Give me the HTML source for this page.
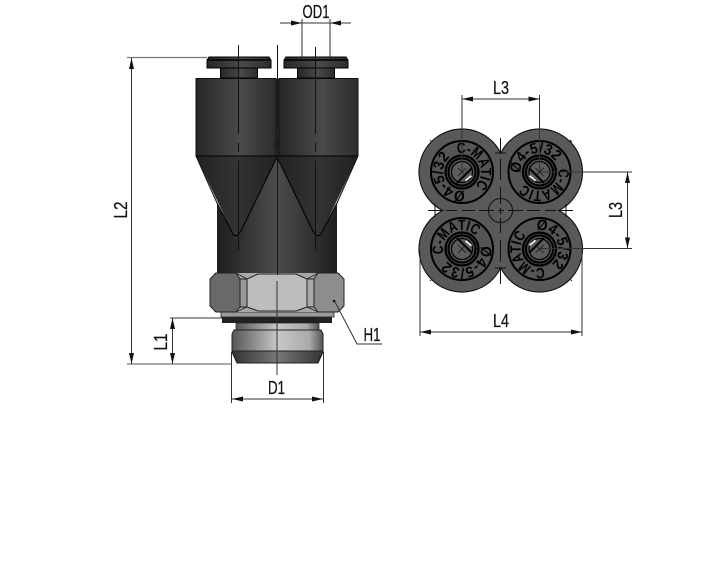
<!DOCTYPE html>
<html><head><meta charset="utf-8"><style>
html,body{margin:0;padding:0;background:#fff;width:702px;height:568px;overflow:hidden}
svg{display:block}
text{font-family:"Liberation Sans",sans-serif;fill:#111}
.lb{font-size:18px;text-anchor:middle;stroke:#111;stroke-width:.25}
.dim{stroke:#333;stroke-width:1;fill:none}
.grey{stroke:#777;stroke-width:1.3;fill:none}
.ar{fill:#111;stroke:none}
.en{font-size:15px;font-weight:bold;fill:#000}
</style></head><body>
<svg width="702" height="568" viewBox="0 0 702 568" xmlns="http://www.w3.org/2000/svg">
<defs>
<linearGradient id="cyl" x1="0" x2="1" y1="0" y2="0"><stop offset="0" stop-color="#262626"/><stop offset=".55" stop-color="#4a4a4a"/><stop offset="1" stop-color="#2c2c2c"/></linearGradient>
<linearGradient id="cone" x1="0" x2="1" y1="0" y2="0"><stop offset="0" stop-color="#222"/><stop offset=".5" stop-color="#333"/><stop offset="1" stop-color="#222"/></linearGradient>
<linearGradient id="low" x1="0" x2="1" y1="0" y2="0"><stop offset="0" stop-color="#1e1e1e"/><stop offset=".5" stop-color="#4c4c4c"/><stop offset="1" stop-color="#1e1e1e"/></linearGradient>
<linearGradient id="thr" x1="0" x2="1" y1="0" y2="0"><stop offset="0" stop-color="#555"/><stop offset=".5" stop-color="#c8c8c8"/><stop offset=".85" stop-color="#aaa"/><stop offset="1" stop-color="#555"/></linearGradient>
<linearGradient id="thrd" x1="0" x2="1" y1="0" y2="0"><stop offset="0" stop-color="#333"/><stop offset=".5" stop-color="#777"/><stop offset="1" stop-color="#333"/></linearGradient>
<path id="c" d="M0 -19A19 19 0 1 1 -0.100 -19" fill="none"/>
<g id="head">
 <circle r="31" fill="#555" stroke="#000" stroke-width="2"/>
 <circle r="16.500" fill="#444" stroke="#000" stroke-width="2.200"/>
 <circle r="13.500" fill="#555" stroke="#000" stroke-width="2"/>
 <circle r="10.500" fill="#5c5c5c" stroke="#000" stroke-width="1.200"/>
 <path d="M-4 -4 4 4M-4 4 4 -4" stroke="#111" stroke-width=".7"/>
</g>
</defs>

<!-- body -->
<path d="M277 157 241 231Q235 240 232 232L217 203V273H337V203L322 232Q318 240 313 231Z" fill="url(#low)"/>
<path d="M196 156H277L241 231Q235 240 232 232Z" fill="url(#cone)"/>
<path d="M277 156H358L322 232Q318 240 313 231Z" fill="url(#cone)"/>
<path d="M196 156 217 203M358 156 337 203" stroke="#111" stroke-width="1"/>
<path d="M277 157 241 231Q235 240 232 232L217 203M277 157 313 231Q318 240 322 232L337 203" fill="none" stroke="#000" stroke-width="1.100"/>
<rect x="196" y="78.500" width="80" height="77.500" fill="url(#cyl)" stroke="#111" stroke-width="1"/>
<rect x="279" y="78.500" width="79" height="77.500" fill="url(#cyl)" stroke="#111" stroke-width="1"/>
<rect x="276" y="79" width="3" height="78" fill="#222"/>
<line x1="196" y1="156" x2="358" y2="156" stroke="#000" stroke-width="1.100"/>
<g fill="url(#cyl)" stroke="#000" stroke-width="1">
<rect x="220.500" y="68" width="37" height="10"/>
<rect x="297.500" y="68" width="37" height="10"/>
<path d="M209 57H269L271 60V68H207V60Z"/>
<path d="M286 57H346L348 60V68H284V60Z"/>
</g>
<path d="M208 60H270M285 60H347" stroke="#000" stroke-width="1.400"/>

<!-- hex and thread -->
<path d="M221 312H334V317H221Z" fill="#9a9a9a" stroke="#222" stroke-width=".8"/>
<rect x="222" y="317" width="110" height="6" fill="#222"/>
<rect x="236" y="323" width="83" height="7" fill="url(#thr)" stroke="#222" stroke-width=".7"/>
<path d="M234 330H321L323 334V352L318 363H237L232 352V334Z" fill="url(#thr)" stroke="#222" stroke-width="1"/>
<path d="M232 351H323L318 363H237Z" fill="url(#thrd)" stroke="#222" stroke-width="1"/>
<rect x="214" y="273" width="126" height="39" fill="#a8a8a8"/>
<path d="M210 279 216 273H236L240 279V307L236 312H216L210 306Z" fill="#696969" stroke="#222" stroke-width="1"/>
<path d="M344 279 338 273H318L314 279V307L318 312H338L344 306Z" fill="#8d8d8d" stroke="#222" stroke-width="1"/>
<path d="M240 279H247V307H240Z" fill="#999" stroke="#222" stroke-width="1"/>
<path d="M307 279H314V307H307Z" fill="#aaa" stroke="#222" stroke-width="1"/>
<path d="M247 279 258 274H296L307 279V307L296 311H258L247 307Z" fill="#bdbdbd" stroke="#222" stroke-width="1"/>
<path d="M236 273 247 279M318 273 307 279M236 312 247 307M318 312 307 307" stroke="#222" stroke-width=".8"/>

<!-- center lines -->
<g stroke="#111" stroke-width="1" fill="none">
<path d="M238.500 45V134M238.500 143V152M238.500 161V250"/>
<path d="M315.500 47V134M315.500 143V152M315.500 161V250"/>
<path d="M277.500 45V130M277.500 139V147M277.500 156V275"/>
<path d="M277 281V375" stroke="#333"/>
</g>

<!-- left dims -->
<path class="grey" d="M127 57.500H207M127 364H232"/>
<path class="dim" d="M131.500 58V364M172.500 318V364M170 318H222"/>
<path class="ar" d="M131.500 58 129 69H134ZM131.500 364 129 353H134ZM172.500 318 170 329H175ZM172.500 364 170 353H175Z"/>
<text class="lb" transform="translate(127,210) rotate(-90)" textLength="17" lengthAdjust="spacingAndGlyphs">L2</text>
<text class="lb" transform="translate(167,342) rotate(-90)" textLength="17" lengthAdjust="spacingAndGlyphs">L1</text>

<!-- OD1 -->
<path class="dim" d="M280 23H351M302 19V57M330 19V57"/>
<path class="ar" d="M302 23 291 20.500V25.500ZM330 23 341 20.500V25.500Z"/>
<text class="lb" x="316" y="18" textLength="27" lengthAdjust="spacingAndGlyphs">OD1</text>

<!-- D1 -->
<path class="dim" d="M231.500 352V403M323.500 352V403M232 399H323"/>
<path class="ar" d="M232 399 243 396.500V401.500ZM323 399 312 396.500V401.500Z"/>
<text class="lb" x="276.500" y="394" textLength="17" lengthAdjust="spacingAndGlyphs">D1</text>

<!-- H1 -->
<path class="dim" d="M334 300 357 344H382"/>
<circle cx="334" cy="301" r="1.300" fill="#111"/>
<text class="lb" x="372" y="341" textLength="17" lengthAdjust="spacingAndGlyphs">H1</text>

<!-- right view -->
<g fill="none" stroke="#111" stroke-width="2.200">
<circle cx="462" cy="172" r="42.500"/><circle cx="539.500" cy="172" r="42.500"/>
<circle cx="462" cy="249" r="42.500"/><circle cx="539.500" cy="249" r="42.500"/>
</g>
<g fill="#595959">
<circle cx="462" cy="172" r="42.500"/><circle cx="539.500" cy="172" r="42.500"/>
<circle cx="462" cy="249" r="42.500"/><circle cx="539.500" cy="249" r="42.500"/>
<rect x="462" y="172" width="77.500" height="77"/>
</g>
<use href="#head" x="462" y="172"/>
<use href="#head" x="539.500" y="172"/>
<use href="#head" x="462" y="249"/>
<use href="#head" x="539.500" y="249"/>

<g transform="translate(462,172) rotate(-15)"><text class="en"><textPath href="#c" textLength="50" lengthAdjust="spacingAndGlyphs">C-MATIC</textPath></text><text class="en"><textPath href="#c" startOffset="61" textLength="50" lengthAdjust="spacingAndGlyphs">Ø4-5/32</textPath></text></g>
<g transform="translate(539.500,172) rotate(80)"><text class="en"><textPath href="#c" textLength="50" lengthAdjust="spacingAndGlyphs">C-MATIC</textPath></text><text class="en"><textPath href="#c" startOffset="61" textLength="50" lengthAdjust="spacingAndGlyphs">Ø4-5/32</textPath></text></g>
<g transform="translate(462,249) rotate(-105)"><text class="en"><textPath href="#c" textLength="50" lengthAdjust="spacingAndGlyphs">C-MATIC</textPath></text><text class="en"><textPath href="#c" startOffset="61" textLength="50" lengthAdjust="spacingAndGlyphs">Ø4-5/32</textPath></text></g>
<g transform="translate(539.500,249) rotate(165)"><text class="en"><textPath href="#c" textLength="50" lengthAdjust="spacingAndGlyphs">C-MATIC</textPath></text><text class="en"><textPath href="#c" startOffset="61" textLength="50" lengthAdjust="spacingAndGlyphs">Ø4-5/32</textPath></text></g>

<path d="M457 183 472 168M529 168 544 183M457 238 472 253M529 253 544 238" stroke="#000" stroke-width="2"/>
<g fill="#eee" stroke="none">
<path d="M465 180 471 175 472 176.500 466 181.500Z"/>
<path d="M530 175 536 180 535 181.500 529 176.500Z"/>
<path d="M466 240 472 245 471 246.500 465 241.500Z"/>
<path d="M536 241 530 246 529 244.500 535 239.500Z"/>
</g>

<circle cx="500.500" cy="210.500" r="12" fill="#5a5a5a" stroke="#111" stroke-width="1"/>
<g stroke="#111" stroke-width="1" fill="none">
<path d="M500.500 138V153M500.500 159V180M500.500 187V204M500.500 208V214M500.500 218V233M500.500 240V262M500.500 268V284"/>
<path d="M428 210.500H442M446 210.500H457M462 210.500H475M479 210.500H494M498 210.500H504M508 210.500H523M527 210.500H540M545 210.500H556M560 210.500H573"/>
<path d="M495 153H506M495 268H506M435 204V217M566 204V217"/>
<path d="M430 140 432 142M572 142 570 140M430 281 432 279M570 279 572 281" stroke="#333"/>
</g>

<!-- right dims -->
<path class="dim" d="M462 95V172M539.500 95V172M462 99H539.500"/>
<path class="ar" d="M462 99 473 96.500V101.500ZM539.500 99 528.500 96.500V101.500Z"/>
<text class="lb" x="501" y="94" textLength="16" lengthAdjust="spacingAndGlyphs">L3</text>
<path class="dim" d="M540 172H632M540 248.500H632M627.500 172V248.500"/>
<path class="ar" d="M627.500 172 625 183H630ZM627.500 248.500 625 237.500H630Z"/>
<text class="lb" transform="translate(622,210) rotate(-90)" textLength="16" lengthAdjust="spacingAndGlyphs">L3</text>
<path class="dim" d="M420 250V336M582 250V336M420 332H582"/>
<path class="ar" d="M420 332 431 329.500V334.500ZM582 332 571 329.500V334.500Z"/>
<text class="lb" x="501" y="327" textLength="16" lengthAdjust="spacingAndGlyphs">L4</text>
</svg>
</body></html>
